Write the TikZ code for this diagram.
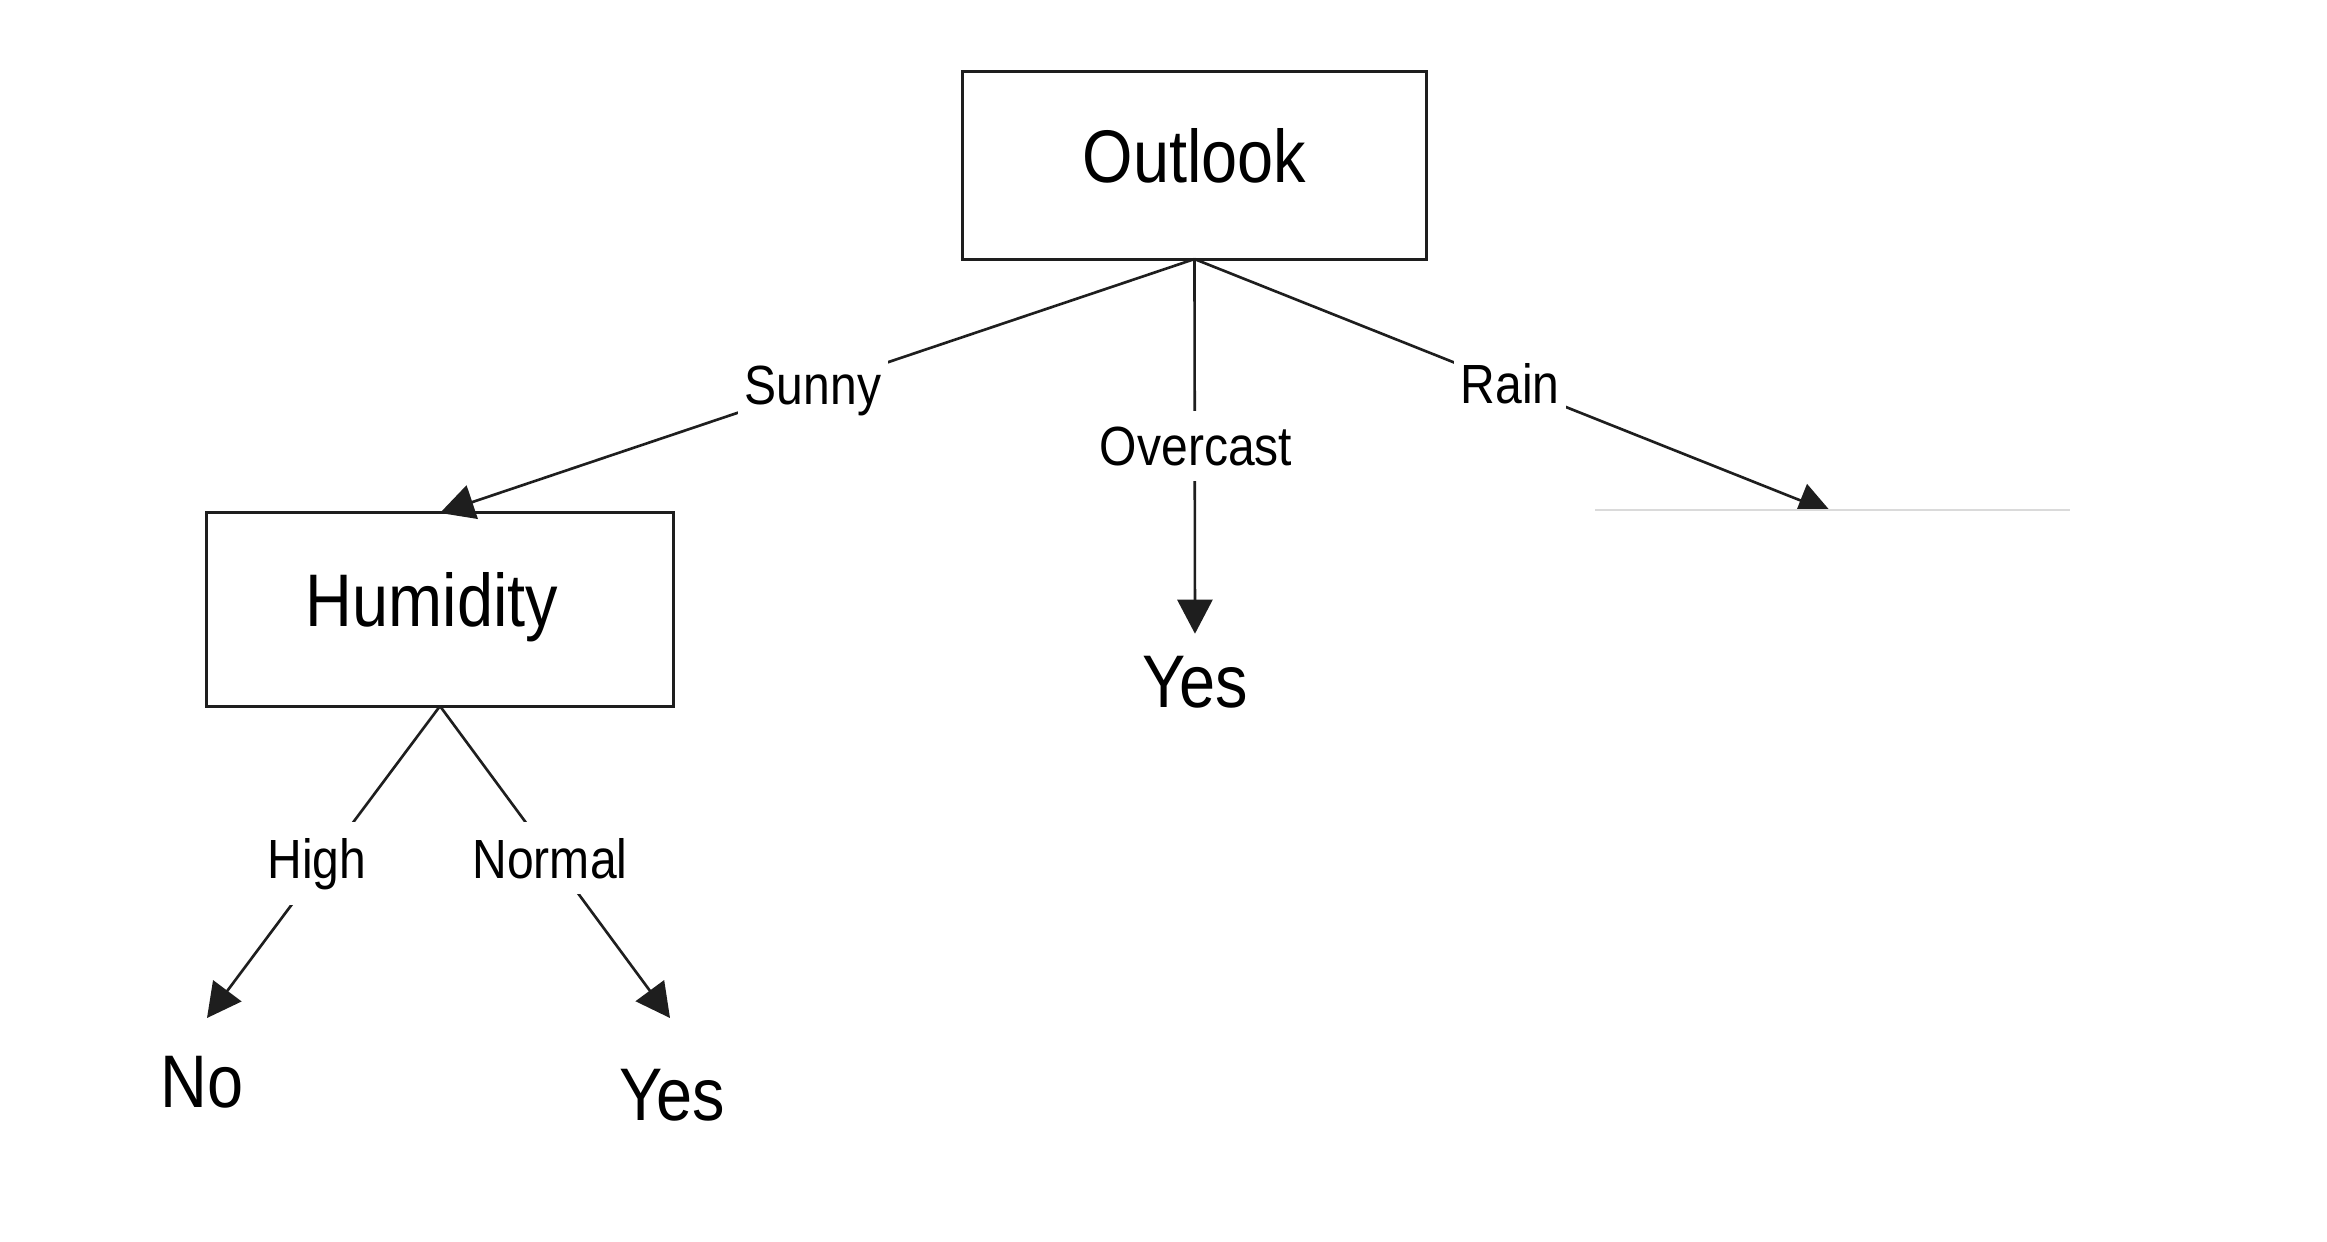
\documentclass[tikz,border=0pt]{standalone}
\usepackage{fontspec}
\setmainfont{Liberation Sans}[FakeStretch=0.87]
\usetikzlibrary{arrows.meta}
\definecolor{ink}{HTML}{1E1E1E}
\definecolor{faint}{HTML}{DADADA}
\begin{document}
\begin{tikzpicture}[x=0.01cm,y=-0.01cm,
  box/.style={draw=ink,line width=0.85pt,rectangle,inner sep=0pt,outer sep=0pt,
    text height=15.2pt,text depth=0.2cm,
    font=\fontsize{21.2pt}{25pt}\selectfont},
  leaf/.style={inner sep=0pt,outer sep=0pt,font=\fontsize{21.2pt}{25pt}\selectfont},
  lbl/.style={fill=white,inner xsep=2pt,inner ysep=4.5pt,
    font=\fontsize{15.7pt}{19pt}\selectfont},
  conn/.style={draw=ink,line width=0.75pt,-{Triangle[length=0.34cm,width=0.35cm]}},
  line/.style={draw=ink,line width=0.75pt}]
\useasboundingbox[fill=white] (0,0) rectangle (2327,1241);

% decision nodes
\node[box,minimum width=4.63cm,minimum height=1.87cm] (outlook) at (1194.5,165.5) {Outlook};
\node[box,minimum width=4.66cm,minimum height=1.93cm] (hum) at (440,609.5) {\hspace*{-0.16cm}Humidity};

% leaves
\node[leaf,anchor=base] (yesm) at (1195,707) {Yes};
\node[leaf,anchor=base] (no) at (202,1107) {No};
\node[leaf,anchor=base] (yesb) at (672,1120) {Yes};

% arrow end points
\coordinate (notip) at (207,1018);
\coordinate (yesbtip) at (670,1018);
\coordinate (raintip) at (1832,513);

% connectors
\draw[conn] (outlook.south) -- (hum.north);
\draw[conn,shorten >=0.22cm] (outlook.south) -- (yesm.north);
\draw[conn] (outlook.south) -- (raintip);
\draw[conn] (hum.south) -- (notip);
\draw[conn] (hum.south) -- (yesbtip);

% cut-off region under the Rain arrow
\fill[white] (1595,510.5) rectangle (2070,540);
\draw[faint,line width=0.3pt] (1595,510) -- (2070,510);

% edge labels
\node[lbl,anchor=base] (sunny) at (813,404) {Sunny};
\node[lbl,anchor=base] (overcast) at (1196,465) {Overcast};
\node[lbl,anchor=base] (rain) at (1510,403) {Rain};
\node[lbl,anchor=base] (high) at (317,878) {High};
\node[lbl,anchor=base] (normal) at (550,878) {Normal};
\end{tikzpicture}
\end{document}
